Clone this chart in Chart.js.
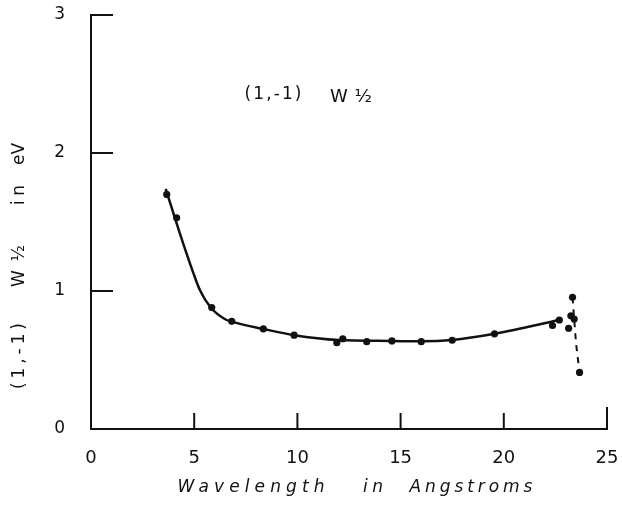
<!DOCTYPE html>
<html>
<head>
<meta charset="utf-8">
<script src="https://cdn.jsdelivr.net/npm/chart.js@4/dist/chart.umd.min.js"></script>
<style>
  html, body { margin: 0; padding: 0; background: #fff; }
  #wrap { width: 622px; height: 505px; }
</style>
</head>
<body>
<div id="wrap"><canvas id="chart"></canvas></div>
<script>
// -------- DATA --------
const pointX = [3.67, 4.15, 5.85, 6.82, 8.35, 9.84, 11.91, 12.2, 13.36, 14.58, 16.0, 17.5, 19.55, 22.36, 22.69, 23.33, 23.25, 23.41, 23.14, 23.67];
const pointY = [1.70, 1.53, 0.88, 0.78, 0.725, 0.68, 0.625, 0.654, 0.633, 0.638, 0.633, 0.643, 0.69, 0.75, 0.79, 0.954, 0.82, 0.797, 0.73, 0.41];

// smooth solid curve drawn through the main run
const curveX = [3.62, 4.3, 4.96, 5.28, 5.8, 6.5, 6.82, 8.35, 9.84, 12.0, 14.58, 16.0, 17.5, 19.55, 22.69];
const curveY = [1.74, 1.42, 1.13, 1.005, 0.88, 0.795, 0.778, 0.725, 0.68, 0.645, 0.638, 0.635, 0.645, 0.69, 0.79];

// dashed drop at the long wavelength end
const dashX = [23.33, 23.41, 23.5, 23.67];
const dashY = [0.954, 0.797, 0.62, 0.41];

const xTicks = [0, 5, 10, 15, 20, 25];
const yTicks = [0, 1, 2, 3];

const INK = "#111";

// -------- HELPERS --------
const toPts = (xs, ys) => xs.map((x, i) => ({ x: x, y: ys[i] }));

// draw text spread to a given width, centred on cx
function spacedText(ctx, text, cx, cy, width, font) {
    ctx.font = font;
    ctx.letterSpacing = "0px";
    const w = ctx.measureText(text).width;
    const sp = text.length > 1 ? Math.max(0, (width - w) / (text.length - 1)) : 0;
    ctx.letterSpacing = sp.toFixed(2) + "px";
    ctx.textAlign = "left";
    ctx.textBaseline = "middle";
    ctx.fillText(text, cx - (w + sp * (text.length - 1)) / 2, cy);
    ctx.letterSpacing = "0px";
}

// -------- PLUGIN: inward ticks + titles --------
const decor = {
    id: "decor",
    afterDraw(chart) {
        const { ctx, chartArea: a, scales: { x, y } } = chart;
        ctx.save();
        ctx.strokeStyle = INK;
        ctx.lineWidth = 2;

        // y ticks point right into the plot
        yTicks.forEach(v => {
            if (v === 0) return;
            const py = y.getPixelForValue(v);
            ctx.beginPath();
            ctx.moveTo(a.left, py);
            ctx.lineTo(a.left + 22, py);
            ctx.stroke();
        });

        // x ticks point up
        xTicks.forEach(v => {
            if (v === 0) return;
            const px = x.getPixelForValue(v);
            const len = v === 25 ? 22 : 16;
            ctx.beginPath();
            ctx.moveTo(px, a.bottom);
            ctx.lineTo(px, a.bottom - len);
            ctx.stroke();
        });

        ctx.fillStyle = INK;
        const up = "17px 'DejaVu Sans'";
        const it = "italic 17px 'DejaVu Sans'";

        // label inside the plot
        spacedText(ctx, "(1,-1)", 273, 95, 57, up);
        spacedText(ctx, "W\u00BD", 351, 97, 42, "18px 'DejaVu Sans'");

        // x axis title
        spacedText(ctx, "Wavelength", 251, 488, 147, it);
        spacedText(ctx, "in", 373, 488, 20, it);
        spacedText(ctx, "Angstroms", 471, 488, 123, it);

        // y axis title, rotated
        ctx.save();
        ctx.translate(20, 0);
        ctx.rotate(-Math.PI / 2);
        spacedText(ctx, "(1,-1)", -356, 0, 66, up);
        spacedText(ctx, "W\u00BD", -266, 0, 42, up);
        spacedText(ctx, "in", -195, 0, 20, up);
        spacedText(ctx, "eV", -154, 0, 20, up);
        ctx.restore();

        ctx.restore();
    }
};

// -------- CHART --------
const ctx = document.getElementById("chart").getContext("2d");

new Chart(ctx, {
    type: "scatter",
    data: {
        datasets: [
            {
                label: "curve",
                data: toPts(curveX, curveY),
                showLine: true,
                cubicInterpolationMode: "monotone",
                borderColor: INK,
                borderWidth: 2.5,
                pointRadius: 0
            },
            {
                label: "drop",
                data: toPts(dashX, dashY),
                showLine: true,
                borderColor: INK,
                borderWidth: 2,
                borderDash: [6, 6],
                pointRadius: 0
            },
            {
                label: "points",
                data: toPts(pointX, pointY),
                showLine: false,
                pointRadius: 3.6,
                pointBackgroundColor: INK,
                pointBorderColor: INK,
                pointBorderWidth: 0
            }
        ]
    },
    options: {
        responsive: true,
        maintainAspectRatio: false,
        animation: false,
        events: [],
        layout: { padding: { top: 15, right: 15, left: 0, bottom: 0 } },
        plugins: {
            legend: { display: false },
            tooltip: { enabled: false }
        },
        scales: {
            x: {
                type: "linear",
                min: 0,
                max: 25,
                afterBuildTicks: s => { s.ticks = xTicks.map(v => ({ value: v })); },
                afterFit: s => { s.height = 76; s.paddingLeft = 0; s.paddingRight = 0; },
                grid: { display: false, drawTicks: false },
                border: { display: true, color: INK, width: 2 },
                ticks: {
                    color: INK,
                    padding: 19,
                    maxRotation: 0,
                    font: { family: "'DejaVu Sans'", size: 18 }
                }
            },
            y: {
                type: "linear",
                min: 0,
                max: 3,
                afterBuildTicks: s => { s.ticks = yTicks.map(v => ({ value: v })); },
                afterFit: s => { s.width = 91; s.paddingTop = 0; s.paddingBottom = 0; },
                grid: { display: false, drawTicks: false },
                border: { display: true, color: INK, width: 2 },
                ticks: {
                    color: INK,
                    padding: 26,
                    font: { family: "'DejaVu Sans'", size: 17 }
                }
            }
        }
    },
    plugins: [decor]
});
</script>
</body>
</html>
